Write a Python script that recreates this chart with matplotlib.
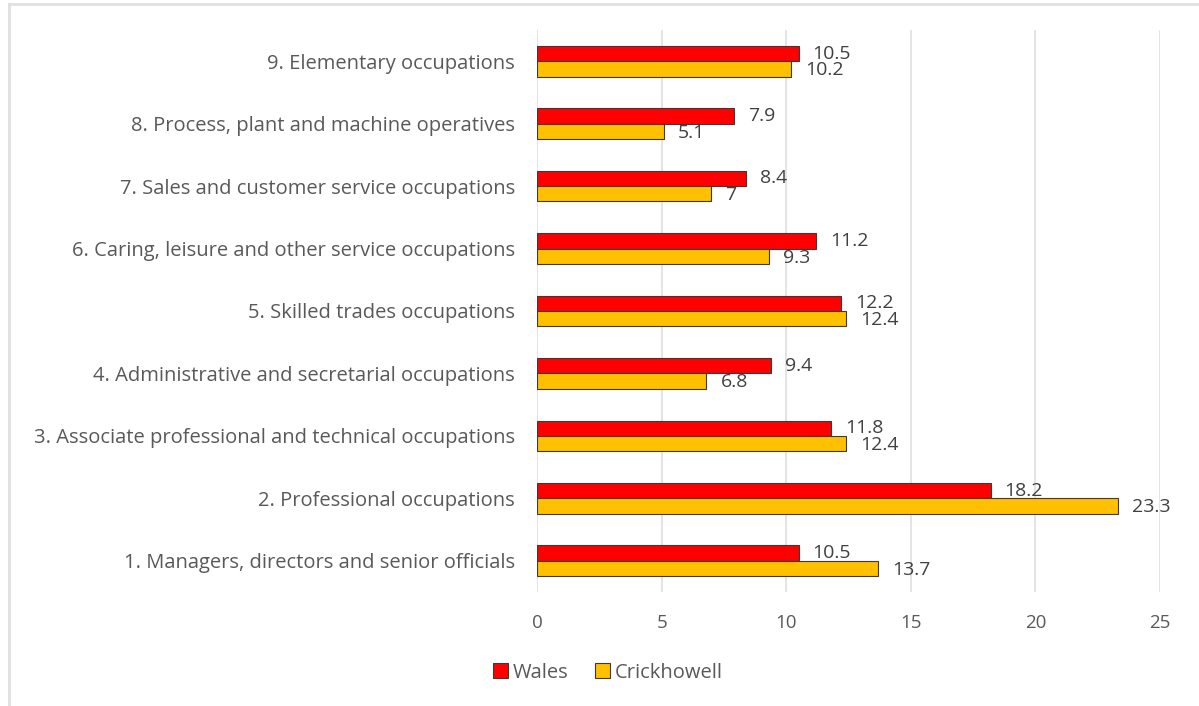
import numpy as np
import matplotlib.pyplot as plt
from matplotlib.lines import Line2D

# Occupation groups, bottom to top
categories = [
    '1. Managers, directors and senior officials',
    '2. Professional occupations',
    '3. Associate professional and technical occupations',
    '4. Administrative and secretarial occupations',
    '5. Skilled trades occupations',
    '6. Caring, leisure and other service occupations',
    '7. Sales and customer service occupations',
    '8. Process, plant and machine operatives',
    '9. Elementary occupations',
]
wales = [10.5, 18.2, 11.8, 9.4, 12.2, 11.2, 8.4, 7.9, 10.5]
crickhowell = [13.7, 23.3, 12.4, 6.8, 12.4, 9.3, 7, 5.1, 10.2]
xticks = [0, 5, 10, 15, 20, 25]

plt.rcParams['font.family'] = ['Open Sans', 'DejaVu Sans']
txt_col = '#595959'
fs = 14.5

fig = plt.figure(figsize=(11.99, 7.06), dpi=100)
ax = fig.add_axes([0.4479, 0.1615, 0.5196, 0.796])

y = np.arange(len(categories))
h = 0.245
ax.barh(y + h / 2, wales, height=h, color='#ff0000', edgecolor='#3a3a3a',
        linewidth=0.8, label='Wales', zorder=3)
ax.barh(y - h / 2, crickhowell, height=h, color='#ffc000', edgecolor='#3a3a3a',
        linewidth=0.8, label='Crickhowell', zorder=3)

# value labels at the end of each bar
for yi, v in zip(y, wales):
    ax.annotate('{0:g}'.format(v), (v, yi + h / 2), xytext=(10, 0),
                textcoords='offset points', va='center', ha='left',
                fontsize=fs - 0.5, color='#404040')
for yi, v in zip(y, crickhowell):
    ax.annotate('{0:g}'.format(v), (v, yi - h / 2), xytext=(10, -1),
                textcoords='offset points', va='center', ha='left',
                fontsize=fs - 0.5, color='#404040')

ax.set_xlim(0, 25)
ax.set_ylim(-0.5, len(categories) - 0.5)
ax.set_xticks(xticks)
ax.set_yticks(y)
ax.set_yticklabels(categories)
ax.tick_params(axis='y', length=0, pad=16, labelsize=fs, labelcolor=txt_col)
ax.tick_params(axis='x', length=0, pad=16, labelsize=fs - 1, labelcolor=txt_col)
ax.xaxis.grid(True, color='#dcdcdc', linewidth=1.1, zorder=0)
for s in ax.spines.values():
    s.set_visible(False)

fig.legend(loc='center', bbox_to_anchor=(0.507, 0.047), ncol=2, frameon=False,
           fontsize=fs, labelcolor=txt_col, handlelength=0.75, handleheight=0.75,
           handletextpad=0.25, columnspacing=1.3)

# thin grey frame on top and left
fig.add_artist(Line2D([0.0075, 1], [0.9945, 0.9945], color='#e0e0e0', lw=2))
fig.add_artist(Line2D([0.0075, 0.0075], [0, 0.9945], color='#e0e0e0', lw=2))

plt.savefig('out.png', dpi=100)
